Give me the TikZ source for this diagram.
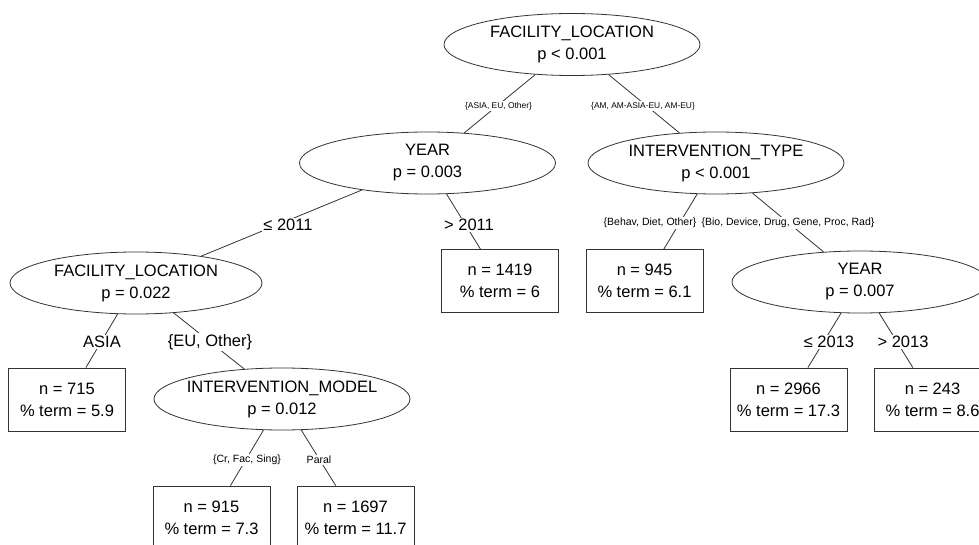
\documentclass[tikz,border=0pt]{standalone}
\usepackage{fontspec}
\setmainfont{Liberation Sans}
\usetikzlibrary{shapes.geometric}
\tikzset{
  split/.style={ellipse, draw=black!80, line width=0.8pt, fill=white, minimum width=256pt, minimum height=62pt, inner xsep=-40pt, inner ysep=-8pt, align=center, font=\fontsize{16.5}{22}\selectfont},
  leaf/.style={rectangle, draw=black!80, line width=0.8pt, fill=white, minimum width=117pt, minimum height=63pt, inner sep=0pt, align=center, font=\fontsize{16.5}{22}\selectfont},
  edge/.style={draw=black!80, line width=0.8pt},
  lab/.style={fill=white, inner sep=1pt, font=\fontsize{16.5}{20}\selectfont},
  labs/.style={fill=white, inner sep=1pt, font=\fontsize{8.4}{10}\selectfont},
  labm/.style={fill=white, inner sep=1pt, font=\fontsize{10.5}{12}\selectfont}
}
\begin{document}
\begin{tikzpicture}[x=1pt, y=-1pt]
\useasboundingbox (0,0) rectangle (979,545);
\clip (0,0) rectangle (979,545);
% split nodes
\node[split] (root) at (572,44.5) {FACILITY\_LOCATION\\p < 0.001};
\node[split] (year1) at (427.5,163) {YEAR\\p = 0.003};
\node[split] (itype) at (716,163) {INTERVENTION\_TYPE\\p < 0.001};
\node[split, minimum width=252pt] (fl2) at (136,283) {FACILITY\_LOCATION\\p = 0.022};
\node[split] (year2) at (860,282) {YEAR\\p = 0.007};
\node[split] (im) at (282,399) {INTERVENTION\_MODEL\\p = 0.012};
% leaves
\node[leaf] (b1419) at (500,281) {n = 1419\\\% term = 6};
\node[leaf] (b945) at (644.5,281) {n = 945\\\% term = 6.1};
\node[leaf] (b715) at (67,399.5) {n = 715\\\% term = 5.9};
\node[leaf] (b2966) at (788.5,399.5) {n = 2966\\\% term = 17.3};
\node[leaf] (b243) at (932.5,399.5) {n = 243\\\% term = 8.6};
\node[leaf] (b915) at (211.5,517.5) {n = 915\\\% term = 7.3};
\node[leaf] (b1697) at (355.5,517.5) {n = 1697\\\% term = 11.7};
% edges
\draw[edge] (root) -- (year1);
\draw[edge] (root) -- (itype);
\draw[edge] (year1) -- (fl2);
\draw[edge] (year1) -- (b1419);
\draw[edge] (itype) -- (b945);
\draw[edge] (itype) -- (year2);
\draw[edge] (fl2) -- (b715);
\draw[edge] (fl2) -- (im);
\draw[edge] (year2) -- (b2966);
\draw[edge] (year2) -- (b243);
\draw[edge] (im) -- (b915);
\draw[edge] (im) -- (b1697);
% edge labels
\node[labs] (l1a) at (498.5,106) {\{ASIA, EU, Other\}};
\node[labs] (l1b) at (643,106) {\{AM, AM-ASIA-EU, AM-EU\}};
\node[lab] (l2a) at (288,225) {≤ 2011};
\node[lab] (l2b) at (469,225) {> 2011};
\node[labm] (l2c) at (650,223) {\{Behav, Diet, Other\}};
\node[labm] (l2d) at (788,223) {\{Bio, Device, Drug, Gene, Proc, Rad\}};
\node[lab] (l3a) at (102,342) {ASIA};
\node[lab] (l3b) at (210,342) {\{EU, Other\}};
\node[lab] (l3c) at (829,342) {≤ 2013};
\node[lab] (l3d) at (903,342) {> 2013};
\node[labm] (l4a) at (247,460) {\{Cr, Fac, Sing\}};
\node[labm] (l4b) at (319,460) {Paral};
\end{tikzpicture}
\end{document}
